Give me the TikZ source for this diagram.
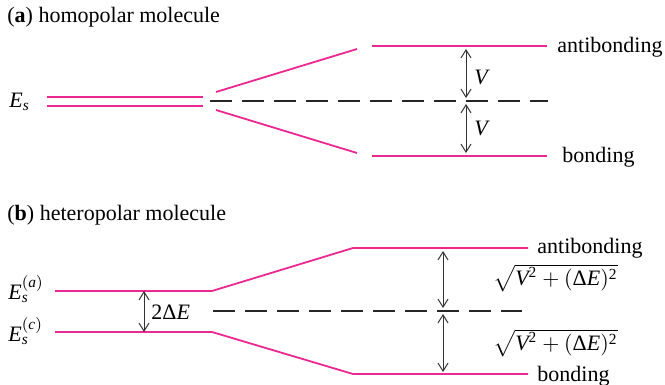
\documentclass[tikz,border=0pt]{standalone}
\usepackage{amsmath}
\usepackage{fontspec}
\setmainfont{Liberation Serif}
\usepackage{tikz}
\usetikzlibrary{arrows.meta, positioning, calc}

\definecolor{levelpink}{RGB}{236,40,145}

\newcommand{\tv}[1]{\textit{#1}}
\newcommand{\dE}{\text{Δ}\tv{E}}

\tikzset{
  level/.style={levelpink, line width=0.9pt},
  midline/.style={black!85, line width=0.55pt, dash pattern=on 11pt off 5pt},
  gap/.style={<->, black!80, line width=0.5pt, >={Straight Barb[length=4pt,width=5pt]}},
  lbl/.style={anchor=west, inner sep=0pt},
}

\begin{document}
\begin{tikzpicture}[x=0.5pt, y=-0.5pt, font=\fontsize{11}{13}\selectfont]
\useasboundingbox (0,0) rectangle (665,385);

% (a) homopolar
\node[lbl] (titleA) at (7,17) {(\textbf{a}) homopolar molecule};
\node[lbl] (esA) at (9,102) {$\tv{E}_{\tv{s}}$};

\draw[level] (47,97) -- (203,97);
\draw[level] (47,106) -- (203,106);
\draw[level] (216,92) -- (357,49);
\draw[level] (216,110) -- (357,153);
\draw[level] (372,46) -- (547,46);
\draw[level] (372,156) -- (547,156);
\draw[midline] (210,101) -- (548,101);

\coordinate (topA) at (466,49);
\coordinate (midAu) at (466,98);
\coordinate (midAd) at (466,104);
\coordinate (botA) at (466,153);
\draw[gap] (topA) -- (midAu);
\draw[gap] (midAd) -- (botA);
\node[lbl] (vup) at (474,77) {$\tv{V}$};
\node[lbl] (vdown) at (474,128) {$\tv{V}$};

\node[lbl] (antiA) at (557,47) {antibonding};
\node[lbl] (bondA) at (562,157) {bonding};

% (b) heteropolar
\node[lbl] (titleB) at (7,215) {(\textbf{b}) heteropolar molecule};
\node[lbl] (esa) at (8,289) {$\tv{E}_{\tv{s}}^{(\tv{a})}$};
\node[lbl] (esc) at (8,331) {$\tv{E}_{\tv{s}}^{(\tv{c})}$};

\draw[level] (55,291) -- (212,291) -- (353,248) -- (528,248);
\draw[level] (55,332) -- (212,332) -- (353,374) -- (528,374);
\draw[midline] (213,311) -- (522,311);

\coordinate (ea) at (144,291);
\coordinate (ec) at (144,332);
\draw[gap] (ea) -- (ec);
\node[lbl] (split) at (151,312) {$\text{2}\dE$};

\coordinate (topB) at (443,251);
\coordinate (midBu) at (443,308);
\coordinate (midBd) at (443,314);
\coordinate (botB) at (443,372);
\draw[gap] (topB) -- (midBu);
\draw[gap] (midBd) -- (botB);
\node[lbl] (rootup) at (493,278) {$\sqrt{\tv{V}^{\text{2}}+(\dE)^{\text{2}}}$};
\node[lbl] (rootdown) at (493,343) {$\sqrt{\tv{V}^{\text{2}}+(\dE)^{\text{2}}}$};

\node[lbl] (antiB) at (537,248) {antibonding};
\node[lbl] (bondB) at (537,376) {bonding};
\end{tikzpicture}
\end{document}
